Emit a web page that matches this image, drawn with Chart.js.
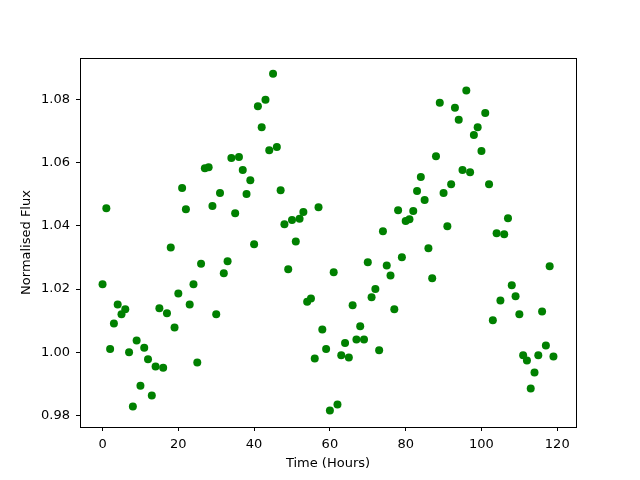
<!DOCTYPE html>
<html>
<head>
<meta charset="utf-8">
<script src="https://cdn.jsdelivr.net/npm/chart.js@4/dist/chart.umd.min.js"></script>
<style>
  html, body { margin: 0; padding: 0; background: #fff; }
  canvas { display: block; }
</style>
</head>
<body>
<canvas id="chart" width="640" height="480"></canvas>
<script>
// Observation times (hours)
const times = [
  0, 1, 2, 3, 4, 5, 6, 7, 8, 9,
  10, 11, 12, 13, 14, 15, 16, 17, 18, 19,
  20, 21, 22, 23, 24, 25, 26, 27, 28, 29,
  30, 31, 32, 33, 34, 35, 36, 37, 38, 39,
  40, 41, 42, 43, 44, 45, 46, 47, 48, 49,
  50, 51, 52, 53, 54, 55, 56, 57, 58, 59,
  60, 61, 62, 63, 64, 65, 66, 67, 68, 69,
  70, 71, 72, 73, 74, 75, 76, 77, 78, 79,
  80, 81, 82, 83, 84, 85, 86, 87, 88, 89,
  90, 91, 92, 93, 94, 95, 96, 97, 98, 99,
  100, 101, 102, 103, 104, 105, 106, 107, 108, 109,
  110, 111, 112, 113, 114, 115, 116, 117, 118, 119
];

// Normalised flux at each time
const flux = [
  1.0215, 1.0456, 1.0010, 1.0091, 1.0151, 1.0120, 1.0136, 1.0000, 0.9828, 1.0037,
  0.9894, 1.0014, 0.9978, 0.9863, 0.9955, 1.0139, 0.9951, 1.0123, 1.0332, 1.0078,
  1.0186, 1.0520, 1.0453, 1.0151, 1.0215, 0.9967, 1.0280, 1.0583, 1.0586, 1.0463,
  1.0120, 1.0504, 1.0250, 1.0288, 1.0615, 1.0440, 1.0618, 1.0577, 1.0501, 1.0545,
  1.0342, 1.0779, 1.0713, 1.0800, 1.0640, 1.0882, 1.0650, 1.0513, 1.0405, 1.0263,
  1.0419, 1.0351, 1.0423, 1.0444, 1.0160, 1.0170, 0.9980, 1.0459, 1.0072, 1.0010,
  0.9815, 1.0253, 0.9834, 0.9990, 1.0029, 0.9983, 1.0149, 1.0040, 1.0082, 1.0040,
  1.0285, 1.0174, 1.0200, 1.0006, 1.0383, 1.0275, 1.0243, 1.0136, 1.0450, 1.0301,
  1.0416, 1.0421, 1.0447, 1.0511, 1.0555, 1.0482, 1.0329, 1.0234, 1.0621, 1.0790,
  1.0504, 1.0399, 1.0532, 1.0774, 1.0736, 1.0577, 1.0829, 1.0570, 1.0688, 1.0713,
  1.0637, 1.0758, 1.0532, 1.0101, 1.0377, 1.0164, 1.0374, 1.0424, 1.0212, 1.0177,
  1.0120, 0.9990, 0.9974, 0.9885, 0.9936, 0.9990, 1.0129, 1.0021, 1.0272, 0.9986
];

// Tick positions
const xTicks = [0, 20, 40, 60, 80, 100, 120];
const yTicks = [0.98, 1.00, 1.02, 1.04, 1.06, 1.08];

const font = { family: 'DejaVu Sans', size: 13 };

// Draw the black box around the plot area
const frame = {
  id: 'frame',
  afterDraw(chart) {
    const { ctx, chartArea: a } = chart;
    ctx.save();
    ctx.strokeStyle = '#000';
    ctx.lineWidth = 1;
    ctx.strokeRect(a.left + 0.5, a.top + 0.5, a.right - a.left, a.bottom - a.top);
    ctx.restore();
  }
};

const axisCommon = {
  border: { display: true, color: '#000', width: 1 },
  grid: {
    display: true,
    drawOnChartArea: false,
    drawTicks: true,
    tickLength: 4,
    tickColor: '#000',
    color: '#000'
  }
};

new Chart(document.getElementById('chart'), {
  type: 'scatter',
  data: {
    datasets: [{
      data: times.map((t, i) => ({ x: t, y: flux[i] })),
      backgroundColor: '#008000',
      borderColor: '#008000',
      pointRadius: 4,
      borderWidth: 0
    }]
  },
  options: {
    responsive: false,
    animation: false,
    layout: { padding: { left: 15, top: 58, right: 64, bottom: 0 } },
    plugins: {
      legend: { display: false },
      tooltip: { enabled: false }
    },
    scales: {
      x: {
        ...axisCommon,
        type: 'linear',
        min: -5.95,
        max: 124.95,
        afterBuildTicks: s => { s.ticks = xTicks.map(v => ({ value: v })); },
        afterFit: s => { s.height = 53; },
        ticks: { color: '#000', font, padding: 6, maxRotation: 0, callback: v => String(v) },
        title: { display: true, text: 'Time (Hours)', color: '#000', font, padding: { top: 2, bottom: 9 } }
      },
      y: {
        ...axisCommon,
        type: 'linear',
        min: 0.9763,
        max: 1.0932,
        afterBuildTicks: s => { s.ticks = yTicks.map(v => ({ value: v })); },
        afterFit: s => { s.width = 65; },
        ticks: { color: '#000', font, padding: 6, callback: v => v.toFixed(2) },
        title: { display: true, text: 'Normalised Flux', color: '#000', font }
      }
    }
  },
  plugins: [frame]
});
</script>
</body>
</html>
